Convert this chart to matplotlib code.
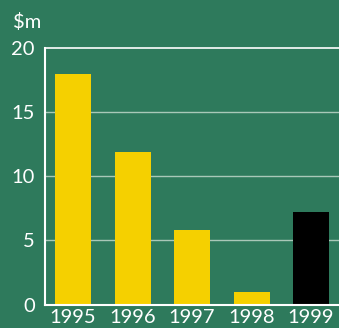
import matplotlib
matplotlib.use("Agg")
import matplotlib.pyplot as plt

years = ["1995", "1996", "1997", "1998", "1999"]
values = [18.0, 11.9, 5.8, 1.0, 7.2]
bar_colors = ["#f5d000", "#f5d000", "#f5d000", "#f5d000", "#000000"]
yticks = [0, 5, 10, 15, 20]

bg = "#2e7a5c"
fig = plt.figure(figsize=(3.39, 3.28), dpi=100, facecolor=bg)
ax = fig.add_axes([44.5/339, (328-304.5)/328, (339-44.5)/339, (304.5-48)/328])
ax.set_facecolor(bg)

x = list(range(len(years)))
ax.bar(x, values, width=0.605, color=bar_colors, zorder=3)
ax.set_xlim(-0.479, 4.47)
ax.set_ylim(0, 20)

for t in yticks[1:-1]:
    ax.axhline(t, color="#a9c8b8", lw=1, zorder=1)
ax.axhline(20, color="white", lw=1.2, zorder=1, clip_on=False)

for s in ["top", "right"]:
    ax.spines[s].set_visible(False)
for s in ["left", "bottom"]:
    ax.spines[s].set_color("white")
    ax.spines[s].set_linewidth(1.5)
ax.spines["bottom"].set_zorder(4)

ax.set_xticks(x)
ax.set_xticklabels(years)
ax.set_yticks(yticks)
ax.set_yticklabels([str(t) for t in yticks])
ax.tick_params(length=0, colors="white", labelsize=14.5, pad=7)
for lab in ax.get_xticklabels() + ax.get_yticklabels():
    lab.set_family("Lato")
    lab.set_color("white")
ax.tick_params(axis="x", pad=3)

fig.text(13/339, 1 - 22/328, "$m", color="white", fontsize=14.5, family="Lato",
         va="center", ha="left")

fig.savefig("out.png", dpi=100, facecolor=bg)
